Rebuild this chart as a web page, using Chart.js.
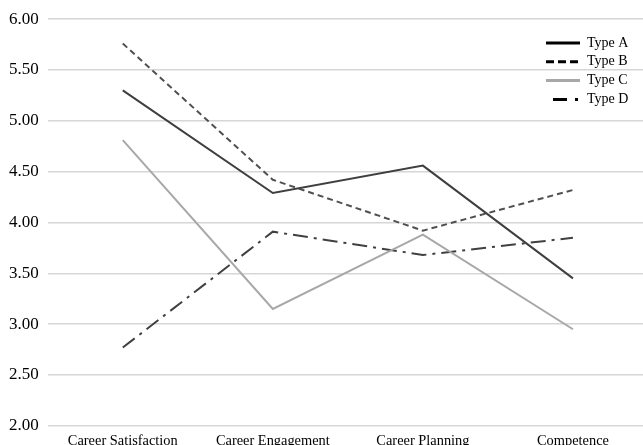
<!DOCTYPE html>
<html>
<head>
<meta charset="utf-8">
<script src="https://cdn.jsdelivr.net/npm/chart.js@4"></script>
<style>
  html, body { margin: 0; padding: 0; background: #fff; overflow: hidden; }
  #wrap { width: 648px; height: 445px; }
</style>
</head>
<body>
<div id="wrap"><canvas id="chart"></canvas></div>
<script>
const categories = ['Career Satisfaction', 'Career Engagement', 'Career Planning', 'Competence'];
const typeA = [5.30, 4.29, 4.56, 3.45];
const typeB = [5.76, 4.42, 3.92, 4.32];
const typeC = [4.81, 3.15, 3.88, 2.95];
const typeD = [2.77, 3.91, 3.68, 3.85];
const seriesNames = ['Type A', 'Type B', 'Type C', 'Type D'];

const FONT = "'Liberation Serif', 'Times New Roman', serif";

const styles = [
  { color: '#3f3f3f', dash: [] },
  { color: '#505050', dash: [6, 4] },
  { color: '#a8a8a8', dash: [] },
  { color: '#404040', dash: [15, 6, 3, 6] },
];
const legendDash = [[], [8, 4], [], [14, 8, 3, 6]];
const legendColors = ['#000', '#000', '#a8a8a8', '#000'];

// legend drawn in the top right corner, lines then text
const cornerLegend = {
  id: 'cornerLegend',
  afterDraw(chart) {
    const ctx = chart.ctx;
    ctx.save();
    ctx.font = '14px ' + FONT;
    ctx.textBaseline = 'middle';
    seriesNames.forEach((name, i) => {
      const y = 43 + i * 18.8;
      ctx.beginPath();
      ctx.setLineDash(legendDash[i]);
      ctx.lineWidth = 3;
      ctx.strokeStyle = legendColors[i];
      const x0 = i === 3 ? 553 : 546;
      ctx.moveTo(x0, y);
      ctx.lineTo(580, y);
      ctx.stroke();
      ctx.setLineDash([]);
      ctx.fillStyle = '#000';
      ctx.fillText(name, 587, y);
    });
    ctx.restore();
  }
};

const ctx = document.getElementById('chart').getContext('2d');
new Chart(ctx, {
  type: 'line',
  data: {
    labels: categories,
    datasets: [typeA, typeB, typeC, typeD].map((vals, i) => ({
      label: seriesNames[i],
      data: vals,
      borderColor: styles[i].color,
      borderDash: styles[i].dash,
      borderWidth: 2,
      pointRadius: 0,
      fill: false,
      tension: 0
    }))
  },
  options: {
    responsive: true,
    maintainAspectRatio: false,
    animation: false,
    layout: { padding: { left: 0, right: 0, top: 10, bottom: -7 } },
    scales: {
      x: {
        offset: true,
        grid: { display: false },
        border: { display: false },
        ticks: { color: '#000', font: { family: FONT, size: 14.4 }, padding: -1, maxRotation: 0 }
      },
      y: {
        min: 2,
        max: 6,
        border: { display: false },
        grid: { color: '#d6d6d6', lineWidth: 1.5, drawTicks: false },
        ticks: {
          stepSize: 0.5,
          color: '#000',
          padding: 9,
          font: { family: FONT, size: 17 },
          callback: v => Number(v).toFixed(2)
        }
      }
    },
    plugins: {
      legend: { display: false },
      tooltip: { enabled: false }
    }
  },
  plugins: [cornerLegend]
});
</script>
</body>
</html>
